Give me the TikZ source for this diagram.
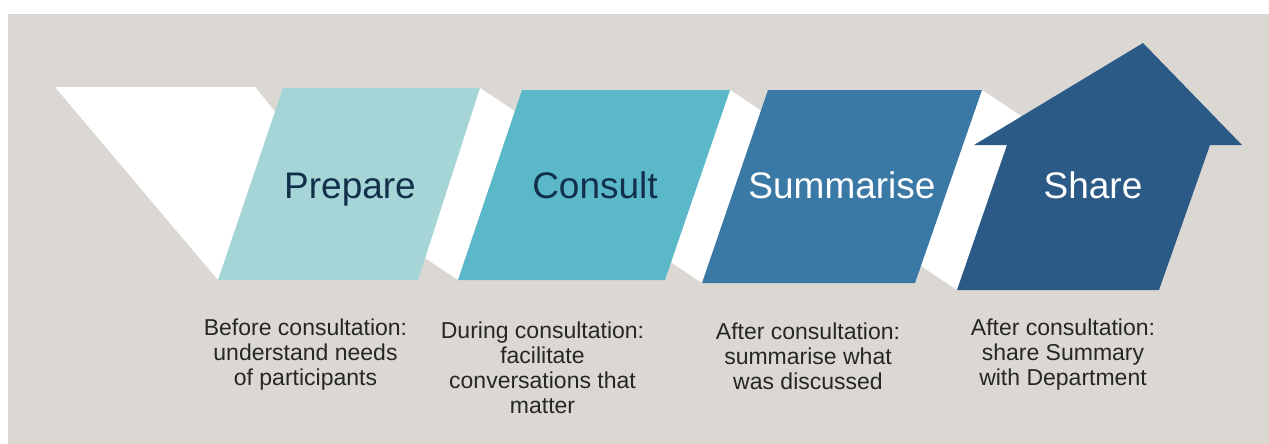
\documentclass[tikz,border=0pt]{standalone}
\usepackage{fontspec}
\setmainfont{Liberation Sans}
\definecolor{bg}{HTML}{DBD8D4}
\definecolor{cprep}{HTML}{A6D5D8}
\definecolor{ccons}{HTML}{5AB8C8}
\definecolor{csumm}{HTML}{3A78A6}
\definecolor{cshare}{HTML}{2C5A87}
\definecolor{navy}{HTML}{12304A}
\definecolor{txt}{HTML}{262626}
\tikzset{
  band/.style={fill=white},
  title/.style={font=\fontsize{37}{44}\selectfont, inner sep=0pt, anchor=base},
  desc/.style={font=\fontsize{23}{24.8}\selectfont, text=txt, align=center, inner sep=0pt, anchor=base}
}
\begin{document}
\begin{tikzpicture}[x=1pt,y=-1pt]
\useasboundingbox (0,0) rectangle (1269,444);
\fill[white] (0,0) rectangle (1269,444);
\fill[bg] (8,14) rectangle (1269,444);
% white ribbon bands (behind)
\fill[band] (55,87) -- (255,87) -- (290,130) -- (218,280) -- cycle;
\fill[band] (480,88) -- (525,118) -- (458,280) -- (413,250) -- cycle;
\fill[band] (730,90) -- (775,120) -- (702,283) -- (657,253) -- cycle;
\fill[band] (982,90) -- (1027,120) -- (957,290) -- (912,260) -- cycle;
% step shapes
\fill[cprep] (283,88) -- (480,88) -- (418,280) -- (218,280) -- cycle;
\fill[ccons] (522,90) -- (730,90) -- (665,280) -- (458,280) -- cycle;
\fill[csumm] (768,90) -- (982,90) -- (915,283) -- (702,283) -- cycle;
\fill[cshare] (1143,43) -- (1242,145) -- (1210,145) -- (1159,290) -- (957,290) -- (1007,145) -- (974,145) -- cycle;
% titles
\node[title, text=navy] (tprep) at (350,198) {Prepare};
\node[title, text=navy] (tcons) at (595,198) {Consult};
\node[title, text=white] (tsumm) at (842,198) {Summarise};
\node[title, text=white] (tshare) at (1093,198) {Share};
% descriptions (base anchor = baseline of last line)
\node[desc] (dprep) at (305.5,385) {Before consultation:\\understand needs\\of participants};
\node[desc] (dcons) at (542.5,413) {During consultation:\\facilitate\\conversations that\\matter};
\node[desc] (dsumm) at (808,389) {After consultation:\\summarise what\\was discussed};
\node[desc] (dshare) at (1063,385) {After consultation:\\share Summary\\with Department};
\end{tikzpicture}
\end{document}
